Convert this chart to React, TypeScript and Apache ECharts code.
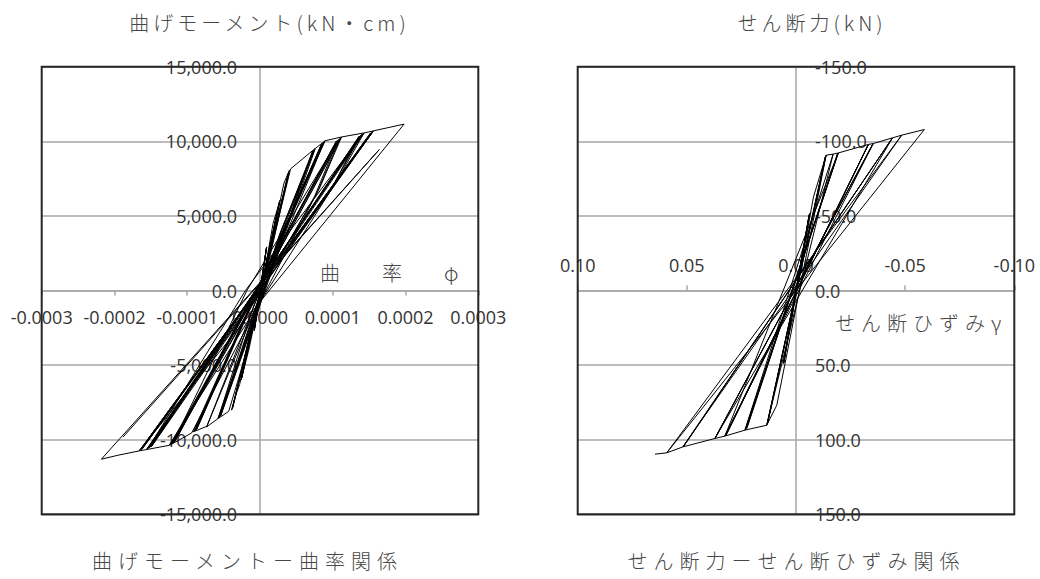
import React, { useEffect, useRef } from "react";
import * as echarts from "echarts";

// ---- Left chart: [curvature φ, bending moment kN·cm], in loading order, per amplitude level ----
const momentLevel1 = [[0, 0], [4e-6, 1300], [9.2e-6, 2920], [-3.5e-6, -1300], [-8.0e-6, -2700], [9.0e-6, 2880], [-7.8e-6, -2650], [8.8e-6, 2850], [-7.6e-6, -2600]];
const momentLevel2 = [[1.8e-5, 4500], [2.75e-5, 6050], [1.0e-5, 2000], [-1.5e-5, -3900], [-2.6e-5, -6000], [2.7e-5, 5980], [-2.55e-5, -5900], [2.65e-5, 5900], [-2.5e-5, -5850]];
const momentLevel3 = [[3.3e-5, 7200], [4.04e-5, 8060], [1.6e-5, 3200], [-2.8e-5, -6300], [-3.25e-5, -6900], [-3.9e-5, -8020], [3.0e-6, 0], [4.0e-5, 7950], [-3.8e-5, -7900], [3.9e-5, 7880], [-3.75e-5, -7850]];
const momentLevel4 = [[4.2e-5, 8150], [7.57e-5, 9515], [2.98e-5, 4040], [-3.0e-5, -6000], [-4.3e-5, -8100], [-5.74e-5, -8580], [-1.0e-5, -1200], [7.4e-5, 9420], [2.8e-5, 3900], [-5.6e-5, -8500], [7.3e-5, 9350], [-5.5e-5, -8450], [7.2e-5, 9300], [2.6e-5, 3600], [-5.4e-5, -8400]];
const momentLevel5 = [[7.6e-5, 9520], [8.94e-5, 10030], [3.6e-5, 4400], [-5.8e-5, -8600], [-7.34e-5, -9140], [8.8e-5, 9950], [3.4e-5, 4200], [-7.3e-5, -9100], [-9.18e-5, -9477], [8.7e-5, 9900], [-9.0e-5, -9420], [8.6e-5, 9850], [-8.9e-5, -9380], [8.5e-5, 9800], [3.2e-5, 4000], [-8.8e-5, -9350], [8.4e-5, 9750], [-8.7e-5, -9300]];
const momentLevel6 = [[8.9e-5, 10030], [1.12e-4, 10290], [8.26e-5, 6940], [-9.4e-5, -9550], [-1.24e-4, -10370], [-2.0e-5, -1500], [1.10e-4, 10200], [7.8e-5, 6500], [-1.22e-4, -10300], [1.08e-4, 10120], [-1.8e-5, 0], [-1.20e-4, -10250], [1.07e-4, 10080], [7.5e-5, 6300], [-1.19e-4, -10200], [1.06e-4, 10050], [-1.18e-4, -10150], [1.05e-4, 10020], [-1.17e-4, -10120]];
const momentLevel7 = [[1.12e-4, 10290], [1.43e-4, 10560], [1.05e-4, 7300], [-1.25e-4, -10380], [-1.56e-4, -10660], [1.41e-4, 10500], [-2.0e-5, 0], [-1.54e-4, -10600], [1.40e-4, 10450], [-1.53e-4, -10560], [1.39e-4, 10400], [1.0e-4, 7000], [-1.52e-4, -10520], [1.38e-4, 10380], [-1.51e-4, -10500], [1.37e-4, 10350], [-1.50e-4, -10480], [1.36e-4, 10330], [9.8e-5, 6800], [-1.49e-4, -10450]];
const momentLevel8 = [[1.43e-4, 10560], [1.56e-4, 10700], [-1.56e-4, -10660], [-1.66e-4, -10750], [1.55e-4, 10640], [-1.65e-4, -10700], [1.54e-4, 10600], [-1.64e-4, -10680], [1.53e-4, 10580], [-1.63e-4, -10650], [1.52e-4, 10560], [-1.62e-4, -10630]];
const momentLevel9 = [[1.56e-4, 10700], [1.98e-4, 11150], [-1.66e-4, -10750], [-1.95e-4, -11040], [-2.18e-4, -11306], [1.64e-4, 9450], [-1.88e-4, -9810]];

// ---- Right chart: [shear strain γ, shear force kN], in loading order, per amplitude level ----
const shearLevel1 = [[0, 0], [-0.0024, -20], [0.0020, 18], [-0.0024, -20], [0.0020, 18]];
const shearLevel2 = [[-0.0062, -51.6], [0.0056, 48], [-0.0060, -50], [0.0058, 49], [-0.0060, -50.5], [0.0056, 48.5]];
const shearLevel3 = [[-0.0080, -62.7], [-0.0138, -90.7], [0.0088, 76.9], [0.0134, 90.3], [-0.0136, -90.0], [0.0132, 89.5], [-0.0134, -89.6], [0.0130, 89.0]];
const shearLevel4 = [[-0.0138, -90.7], [-0.0170, -91.4], [0.0134, 90.3], [0.0234, 93.6], [-0.0170, -91.4], [-0.0194, -92.2], [0.0230, 93.0], [-0.0192, -91.8], [0.0226, 92.6], [-0.0190, -91.5]];
const shearLevel5 = [[0.0234, 93.6], [0.0326, 97.6], [-0.0194, -92.2], [-0.0332, -97.9], [0.0324, 97.2], [-0.0330, -97.5], [0.0320, 96.9]];
const shearLevel6 = [[-0.0332, -97.9], [-0.0354, -98.5], [0.0326, 97.6], [0.0372, 99.2], [-0.0352, -98.2], [0.0370, 98.9]];
const shearLevel7 = [[-0.0354, -98.5], [-0.0442, -102.3], [0.0372, 99.2], [0.0518, 104.8], [-0.0440, -101.9], [0.0514, 104.3]];
const shearLevel8 = [[-0.0442, -102.3], [-0.0484, -104.1], [0.0518, 104.8], [0.0592, 108.8], [-0.0484, -104.1], [-0.0588, -107.9], [0.0592, 108.8], [0.0646, 109.7]];

// axis ranges [min, max, interval]
const leftXRange = [-0.0003, 0.0003, 0.0001];
const leftYRange = [-15000, 15000, 5000];
const rightXRange = [-0.1, 0.1, 0.05];
const rightYRange = [-150, 150, 50];

// texts
const titles = ["曲げモーメント(kN・cm)", "せん断力(kN)"];
const captions = ["曲げモーメントー曲率関係", "せん断力ーせん断ひずみ関係"];
const axisNames = ["曲　率　φ", "せん断ひずみγ"];

const GRAY = "#a6a6a6";
const axisFont = {
  fontFamily: '"Open Sans", "Liberation Sans", sans-serif',
  fontSize: 18,
  color: "#333",
};
const JP_TITLE = '"Noto Sans CJK JP", "DejaVu Sans"';
const JP = '"Noto Sans CJK JP", sans-serif';
const SC = '"Noto Sans CJK SC", sans-serif';

function fmtThousands(v: number): string {
  const s = Math.abs(v).toFixed(1);
  const [i, d] = s.split(".");
  const sign = v < 0 && Math.abs(v) > 1e-9 ? "-" : "";
  return sign + i.replace(/\B(?=(\d{3})+(?!\d))/g, ",") + "." + d;
}

const momentPath = [
  ...momentLevel1, ...momentLevel2, ...momentLevel3, ...momentLevel4, ...momentLevel5,
  ...momentLevel6, ...momentLevel7, ...momentLevel8, ...momentLevel9,
];
const shearPath = [
  ...shearLevel1, ...shearLevel2, ...shearLevel3, ...shearLevel4,
  ...shearLevel5, ...shearLevel6, ...shearLevel7, ...shearLevel8,
];

export default function App() {
  const ref = useRef<HTMLDivElement>(null);

  useEffect(() => {
    if (!ref.current) return;
    const chart = echarts.init(ref.current, undefined, { renderer: "svg" });

    const G0 = { left: 41.7, top: 66.7, width: 436.6, height: 447.6, outerBoundsMode: "none", containLabel: false };
    const G1 = { left: 577.7, top: 66.7, width: 436.6, height: 447.6, outerBoundsMode: "none", containLabel: false };
    const xOff = -G0.height / 2; // bottom x axis moved up to the zero line
    const yOff = -G0.width / 2; // left y axis moved right to the zero line

    const axisLine = { show: true, onZero: false, lineStyle: { color: GRAY, width: 1.5 } };
    const jpText = (x: number, y: number, text: string, align: string, family = JP) => ({
      type: "text",
      x,
      y,
      silent: true,
      style: {
        text,
        fontSize: 20,
        fontWeight: 300,
        fontFamily: family,
        fill: "#474747",
        align,
        verticalAlign: "middle",
        textAlign: align,
        textVerticalAlign: "middle",
      },
    });
    const lineSeries = (idx: number, data: number[][]) => ({
      type: "line",
      xAxisIndex: idx,
      yAxisIndex: idx,
      data,
      showSymbol: false,
      symbol: "none",
      silent: true,
      lineStyle: { color: "#000", width: 1 },
      z: 5,
    });

    const option: any = {
      animation: false,
      backgroundColor: "#fff",
      grid: [G0, G1],
      xAxis: [
        {
          type: "value",
          gridIndex: 0,
          position: "bottom",
          offset: xOff,
          min: leftXRange[0],
          max: leftXRange[1],
          interval: leftXRange[2],
          axisLine,
          axisTick: { show: true, length: 5, lineStyle: { color: GRAY, width: 1.5 } },
          axisLabel: {
            ...axisFont,
            margin: 17,
            showMinLabel: true,
            showMaxLabel: true,
            formatter: (v: number) => (Math.abs(v) < 1e-12 ? 0 : v).toFixed(4),
          },
          splitLine: { show: false },
        },
        {
          type: "value",
          gridIndex: 1,
          position: "bottom",
          offset: xOff,
          inverse: true,
          min: rightXRange[0],
          max: rightXRange[1],
          interval: rightXRange[2],
          axisLine,
          axisTick: { show: true, inside: true, length: 5, lineStyle: { color: GRAY, width: 1.5 } },
          axisLabel: {
            ...axisFont,
            inside: true,
            margin: 17,
            showMinLabel: true,
            showMaxLabel: true,
            formatter: (v: number) => (Math.abs(v) < 1e-12 ? 0 : v).toFixed(2),
          },
          splitLine: { show: false },
        },
      ],
      yAxis: [
        {
          type: "value",
          gridIndex: 0,
          position: "left",
          offset: yOff,
          min: leftYRange[0],
          max: leftYRange[1],
          interval: leftYRange[2],
          axisLine,
          axisTick: { show: false },
          axisLabel: { ...axisFont, margin: 23, showMinLabel: true, showMaxLabel: true, formatter: fmtThousands },
          splitLine: { show: true, lineStyle: { color: GRAY, width: 1.5 } },
        },
        {
          type: "value",
          gridIndex: 1,
          position: "left",
          offset: yOff,
          inverse: true,
          min: rightYRange[0],
          max: rightYRange[1],
          interval: rightYRange[2],
          axisLine,
          axisTick: { show: false },
          axisLabel: {
            ...axisFont,
            inside: true,
            margin: 19,
            showMinLabel: true,
            showMaxLabel: true,
            formatter: (v: number) => (Math.abs(v) < 1e-9 ? 0 : v).toFixed(1),
          },
          splitLine: { show: true, lineStyle: { color: GRAY, width: 1.5 } },
        },
      ],
      series: [lineSeries(0, momentPath), lineSeries(1, shearPath)],
      graphic: [
        {
          type: "rect",
          silent: true,
          z: 100,
          shape: { x: G0.left, y: G0.top, width: G0.width, height: G0.height },
          style: { fill: "none", stroke: "#262626", lineWidth: 2 },
        },
        {
          type: "rect",
          silent: true,
          z: 100,
          shape: { x: G1.left, y: G1.top, width: G1.width, height: G1.height },
          style: { fill: "none", stroke: "#262626", lineWidth: 2 },
        },
        jpText(269.5, 22, titles[0], "center", JP_TITLE),
        jpText(812, 22, titles[1], "center", JP_TITLE),
        jpText(247.5, 560, captions[0], "center"),
        jpText(796.5, 560, captions[1], "center"),
        jpText(320, 272, axisNames[0], "left", SC),
        jpText(835, 322, axisNames[1], "left"),
      ],
    };

    chart.setOption(option);
    return () => chart.dispose();
  }, []);

  return (
    <>
      <style>{`
        .chartbox text[style*="DejaVu Sans"] { letter-spacing: 4px; }
        .chartbox text[style*="CJK JP"][style*="sans-serif"] { letter-spacing: 6px; }
        .chartbox text[style*="CJK SC"] { letter-spacing: 11px; }
      `}</style>
      <div
        ref={ref}
        className="chartbox"
        style={{ position: "fixed", left: 0, top: 0, width: 1040, height: 579, background: "#fff" }}
      />
    </>
  );
}
